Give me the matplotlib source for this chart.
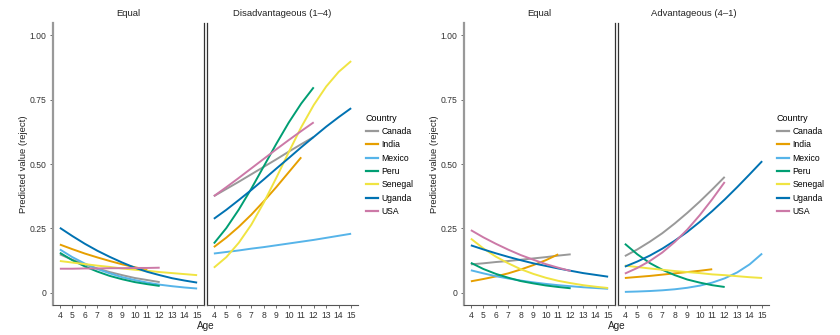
import matplotlib
matplotlib.use("Agg")
import matplotlib.pyplot as plt
from matplotlib.lines import Line2D

plt.rcParams['font.family'] = ['Liberation Sans', 'DejaVu Sans']

COUNTRIES = ["Canada", "India", "Mexico", "Peru", "Senegal", "Uganda", "USA"]
COLORS = ["#999999", "#E69F00", "#56B4E9", "#009E73", "#F0E442", "#0072B2", "#CC79A7"]
START_AGE = 4
X_TICKS = list(range(4, 16))
Y_TICKS = [0, 0.25, 0.5, 0.75, 1.0]
Y_TICK_LABELS = ["0", "0.25", "0.50", "0.75", "1.00"]

# predicted values from age 4 upward, one per year
left_equal = {
    "Canada": [0.149, 0.128, 0.110, 0.094, 0.080, 0.068, 0.057, 0.049, 0.041],
    "India": [0.187, 0.169, 0.152, 0.137, 0.123, 0.110, 0.099, 0.088],
    "Mexico": [0.168, 0.138, 0.113, 0.092, 0.075, 0.060, 0.049, 0.039, 0.031, 0.025, 0.020, 0.016],
    "Peru": [0.155, 0.126, 0.102, 0.082, 0.065, 0.052, 0.041, 0.033, 0.026],
    "Senegal": [0.123, 0.117, 0.111, 0.105, 0.100, 0.094, 0.089, 0.085, 0.080, 0.076, 0.072, 0.068],
    "Uganda": [0.252, 0.220, 0.190, 0.163, 0.139, 0.117, 0.097, 0.081, 0.068, 0.056, 0.047, 0.039],
    "USA": [0.093, 0.093, 0.094, 0.094, 0.095, 0.095, 0.096, 0.096, 0.097],
}
left_disadv = {
    "Canada": [0.375, 0.403, 0.431, 0.460, 0.489, 0.518, 0.548, 0.577, 0.605],
    "India": [0.177, 0.214, 0.256, 0.303, 0.355, 0.410, 0.468, 0.526],
    "Mexico": [0.152, 0.158, 0.164, 0.171, 0.177, 0.184, 0.191, 0.198, 0.205, 0.213, 0.221, 0.229],
    "Peru": [0.191, 0.251, 0.323, 0.404, 0.491, 0.578, 0.661, 0.735, 0.798],
    "Senegal": [0.097, 0.138, 0.194, 0.264, 0.350, 0.446, 0.546, 0.643, 0.729, 0.801, 0.858, 0.900],
    "Uganda": [0.287, 0.322, 0.360, 0.399, 0.440, 0.482, 0.523, 0.565, 0.605, 0.645, 0.682, 0.717],
    "USA": [0.375, 0.410, 0.446, 0.483, 0.520, 0.557, 0.593, 0.628, 0.662],
}
right_equal = {
    "Canada": [0.110, 0.114, 0.119, 0.123, 0.128, 0.133, 0.138, 0.144, 0.149],
    "India": [0.044, 0.053, 0.063, 0.075, 0.090, 0.107, 0.126, 0.149],
    "Mexico": [0.087, 0.075, 0.064, 0.055, 0.047, 0.040, 0.034, 0.029, 0.025, 0.021, 0.018, 0.015],
    "Peru": [0.116, 0.092, 0.073, 0.058, 0.045, 0.036, 0.028, 0.022, 0.017],
    "Senegal": [0.210, 0.172, 0.140, 0.114, 0.091, 0.073, 0.058, 0.046, 0.037, 0.029, 0.023, 0.018],
    "Uganda": [0.184, 0.168, 0.153, 0.139, 0.126, 0.114, 0.104, 0.094, 0.085, 0.076, 0.069, 0.062],
    "USA": [0.243, 0.215, 0.190, 0.167, 0.146, 0.128, 0.111, 0.097, 0.084],
}
right_adv = {
    "Canada": [0.142, 0.168, 0.198, 0.231, 0.269, 0.310, 0.354, 0.401, 0.450],
    "India": [0.057, 0.061, 0.065, 0.070, 0.075, 0.080, 0.085, 0.091],
    "Mexico": [0.003, 0.0044, 0.0063, 0.0091, 0.0131, 0.0189, 0.0272, 0.039, 0.0556, 0.0786, 0.110, 0.152],
    "Peru": [0.190, 0.149, 0.115, 0.089, 0.068, 0.051, 0.039, 0.029, 0.022],
    "Senegal": [0.105, 0.0995, 0.094, 0.089, 0.084, 0.080, 0.076, 0.071, 0.068, 0.064, 0.060, 0.057],
    "Uganda": [0.101, 0.121, 0.144, 0.171, 0.202, 0.236, 0.275, 0.317, 0.362, 0.410, 0.460, 0.511],
    "USA": [0.074, 0.096, 0.123, 0.156, 0.197, 0.245, 0.301, 0.363, 0.430],
}

PANELS = [
    (left_equal, "Equal", 53),
    (left_disadv, "Disadvantageous (1\u20134)", 207),
    (right_equal, "Equal", 464),
    (right_adv, "Advantageous (4\u20131)", 618),
]

W, H = 840, 335
fig = plt.figure(figsize=(W / 100, H / 100), dpi=100)

for i, (data, title, x0) in enumerate(PANELS):
    ax = fig.add_axes([x0 / W, 1 - 305 / H, 151 / W, 282 / H])
    for name, color in zip(COUNTRIES, COLORS):
        vals = data[name]
        ages = list(range(START_AGE, START_AGE + len(vals)))
        ax.plot(ages, vals, color=color, lw=1.4, solid_capstyle="butt")
    ax.set_xlim(3.45, 15.55)
    ax.set_ylim(-0.048, 1.048)
    ax.set_xticks(X_TICKS)
    ax.set_xticklabels([str(t) for t in X_TICKS])
    ax.set_title(title, fontsize=6.8, pad=5, color="#222222")
    ax.tick_params(axis="x", length=2.5, width=0.6, color="#555555",
                   labelsize=6.2, pad=2, labelcolor="#333333")
    ax.spines["top"].set_visible(False)
    ax.spines["bottom"].set_color("#555555")
    ax.spines["bottom"].set_linewidth(0.8)
    if i % 2 == 0:
        ax.set_yticks(Y_TICKS)
        ax.set_yticklabels(Y_TICK_LABELS)
        ax.tick_params(axis="y", length=2.5, width=0.6, color="#555555",
                       labelsize=6.2, pad=2, labelcolor="#333333")
        ax.spines["left"].set_color("#999999")
        ax.spines["left"].set_linewidth(1.6)
        ax.spines["right"].set_color("#333333")
        ax.spines["right"].set_linewidth(0.9)
        ax.set_ylabel("Predicted value (reject)", fontsize=6.8, labelpad=1, color="#222222")
    else:
        ax.set_yticks([])
        ax.spines["right"].set_visible(False)
        ax.spines["left"].set_color("#333333")
        ax.spines["left"].set_linewidth(0.9)
        handles = [Line2D([], [], color=c, lw=1.6) for c in COLORS]
        leg = ax.legend(handles, COUNTRIES, title="Country", loc="upper left",
                        bbox_to_anchor=(1.03, 0.69), frameon=False, fontsize=6.2,
                        title_fontsize=6.5, handlelength=1.4, handletextpad=0.4,
                        labelspacing=0.5, borderaxespad=0)
        leg._legend_box.align = "left"

fig.text(206 / W, 1 - 326 / H, "Age", fontsize=7.2, ha="center", va="center", color="#222222")
fig.text(617 / W, 1 - 326 / H, "Age", fontsize=7.2, ha="center", va="center", color="#222222")

fig.savefig("out.png", dpi=100)
